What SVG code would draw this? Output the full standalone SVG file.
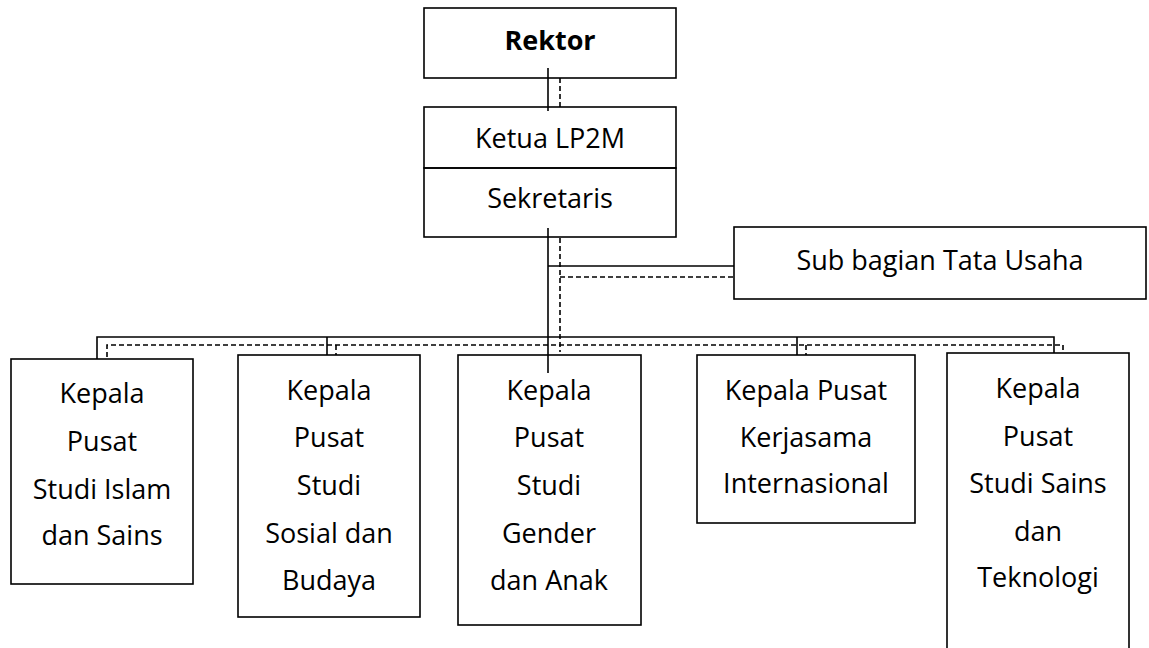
<svg xmlns="http://www.w3.org/2000/svg" width="1149" height="648" viewBox="0 0 1149 648">
<style>
.box{fill:#fff;stroke:#000;stroke-width:1.6}
.s{fill:none;stroke:#000;stroke-width:1.6}
.d{fill:none;stroke:#000;stroke-width:1.6;stroke-dasharray:5 3}
text{font-family:"Open Sans","Noto Sans",sans-serif;font-size:27px;fill:#000;text-anchor:middle}
.b{font-weight:bold}
</style>
<rect width="1149" height="648" fill="#fff"/>
<g id="connectors">
<line class="s" x1="548" y1="68" x2="548" y2="111"/>
<line class="d" x1="560" y1="78" x2="560" y2="107"/>
<line class="s" x1="548" y1="228" x2="548" y2="373"/>
<line class="d" x1="560" y1="238" x2="560" y2="352"/>
<line class="s" x1="548" y1="266" x2="737" y2="266"/>
<line class="d" x1="560" y1="277" x2="737" y2="277"/>
<polyline class="s" points="97,359 97,337 1054,337 1054,358"/>
<polyline class="d" points="107,365 107,345 1063,345 1063,365"/>
<line class="s" x1="327" y1="337" x2="327" y2="359"/>
<line class="s" x1="797" y1="337" x2="797" y2="359"/>
<line class="d" x1="336" y1="345" x2="336" y2="365"/>
<line class="d" x1="806" y1="345" x2="806" y2="365"/>
</g>
<g id="rektor">
<rect class="box" x="424" y="8" width="252" height="70" style="fill:none"/>
<text class="b" x="550" y="50">Rektor</text>
</g>
<g id="ketua">
<rect class="box" x="424" y="107" width="252" height="61" style="fill:none"/>
<text x="550" y="148">Ketua LP2M</text>
</g>
<g id="sekretaris">
<rect class="box" x="424" y="168" width="252" height="69" style="fill:none"/>
<text x="550" y="208">Sekretaris</text>
</g>
<g id="tatausaha">
<rect class="box" x="734" y="227" width="412" height="72"/>
<text x="940" y="270">Sub bagian Tata Usaha</text>
</g>
<g id="islam">
<rect class="box" x="11" y="359" width="182" height="225"/>
<text x="102" y="403">Kepala</text>
<text x="102" y="451">Pusat</text>
<text x="102" y="499">Studi Islam</text>
<text x="102" y="545">dan Sains</text>
</g>
<g id="sosial">
<rect class="box" x="238" y="355" width="182" height="262"/>
<text x="329" y="400">Kepala</text>
<text x="329" y="447">Pusat</text>
<text x="329" y="495">Studi</text>
<text x="329" y="543">Sosial dan</text>
<text x="329" y="590">Budaya</text>
</g>
<g id="gender">
<rect class="box" x="458" y="355" width="183" height="270" style="fill:none"/>
<text x="549" y="400">Kepala</text>
<text x="549" y="447">Pusat</text>
<text x="549" y="495">Studi</text>
<text x="549" y="543">Gender</text>
<text x="549" y="590">dan Anak</text>
</g>
<g id="kerjasama">
<rect class="box" x="697" y="355" width="218" height="168"/>
<text x="806" y="400">Kepala Pusat</text>
<text x="806" y="447">Kerjasama</text>
<text x="806" y="493">Internasional</text>
</g>
<g id="sains">
<rect class="box" x="947" y="353" width="182" height="310"/>
<text x="1038" y="398">Kepala</text>
<text x="1038" y="446">Pusat</text>
<text x="1038" y="493">Studi Sains</text>
<text x="1038" y="541">dan</text>
<text x="1038" y="587">Teknologi</text>
</g>
</svg>
